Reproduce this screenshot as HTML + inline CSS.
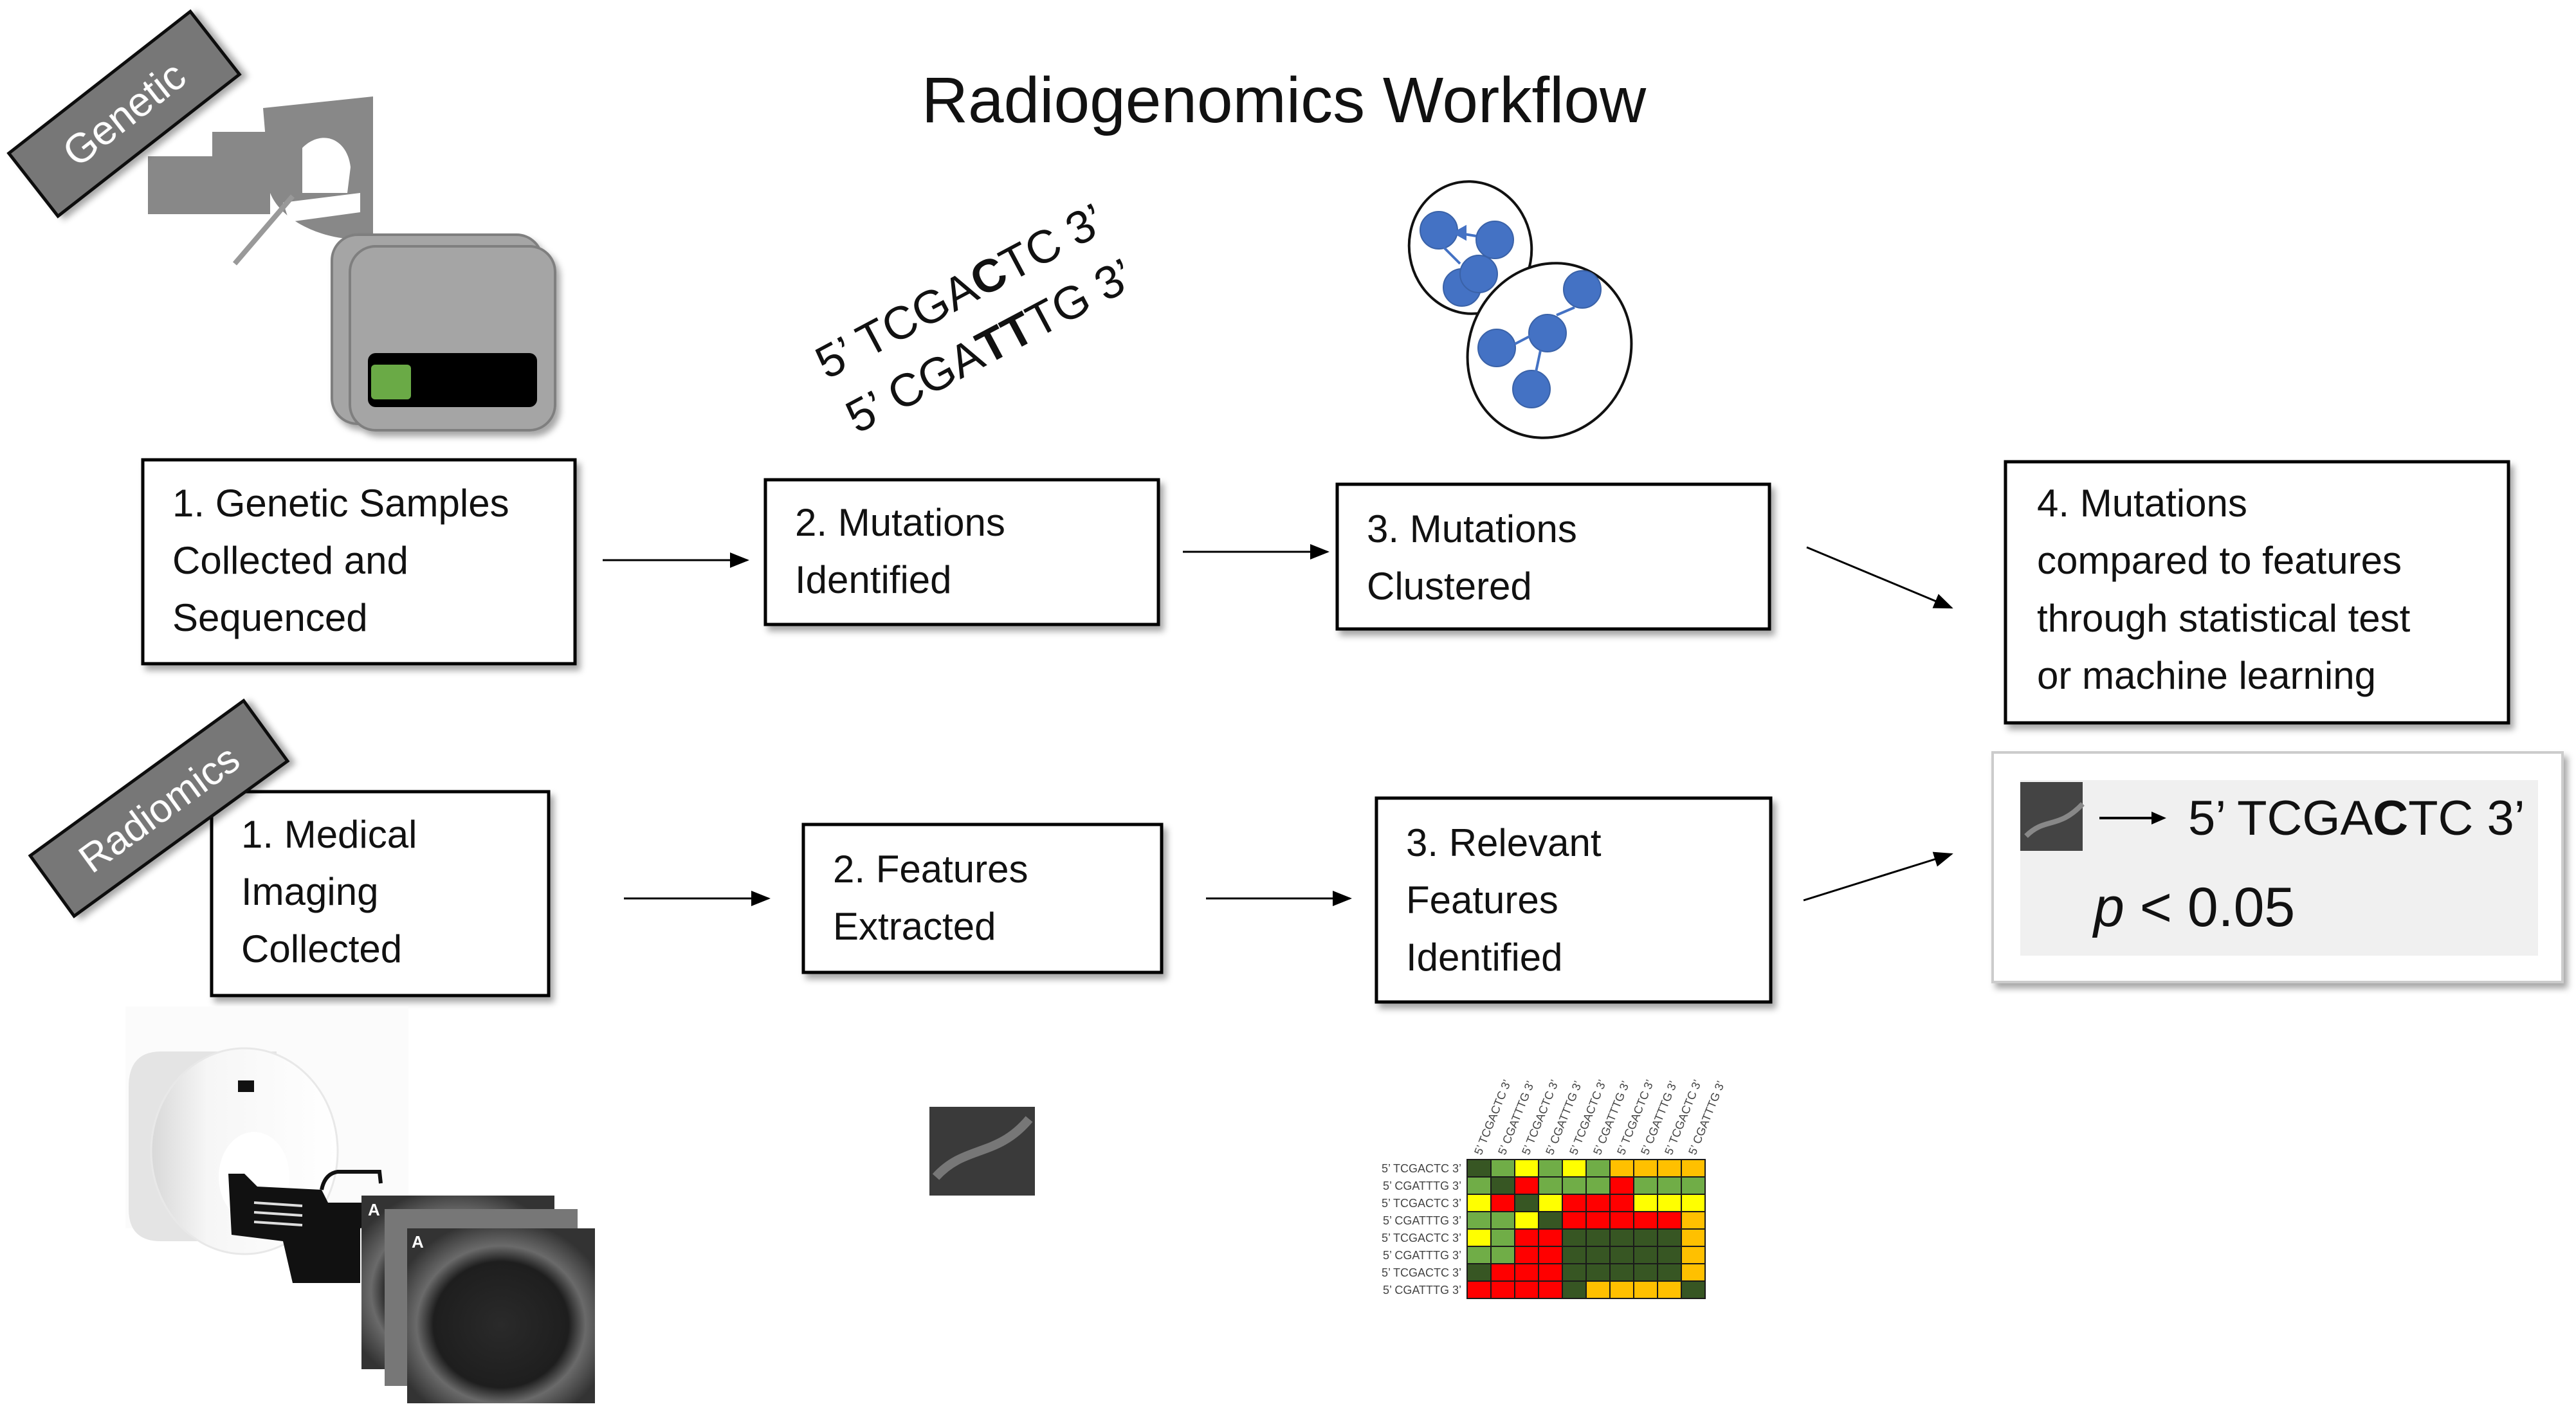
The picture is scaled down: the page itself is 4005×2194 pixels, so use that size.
<!DOCTYPE html>
<html><head><meta charset="utf-8"><style>
html,body{margin:0;padding:0;background:#fff;}
svg{display:block;}
text{font-family:"Liberation Sans",sans-serif;}
.c{stroke:#1a1a1a;stroke-width:2}
.D{fill:#375623}.G{fill:#70ad47}.Y{fill:#ffff00}.O{fill:#ffc000}.R{fill:#ff0000}
.bt{font-size:60px;fill:#111}
.hl{font-size:18px;fill:#444}
</style></head><body>
<svg width="4005" height="2194" viewBox="0 0 4005 2194" xmlns="http://www.w3.org/2000/svg">
<defs>
<filter id="sh" x="-10%" y="-10%" width="130%" height="130%"><feDropShadow dx="6" dy="8" stdDeviation="5" flood-color="#000" flood-opacity="0.35"/></filter>
<marker id="ah" markerWidth="10" markerHeight="8" refX="9" refY="4" orient="auto" markerUnits="strokeWidth"><path d="M0,0 L10,4 L0,8 z" fill="#000"/></marker>
<radialGradient id="mri" cx="50%" cy="55%" r="60%"><stop offset="0" stop-color="#2a2a2a"/><stop offset="0.6" stop-color="#1e1e1e"/><stop offset="0.75" stop-color="#6a6a6a"/><stop offset="1" stop-color="#333"/></radialGradient>
<linearGradient id="gan" x1="0" y1="0" x2="1" y2="0"><stop offset="0" stop-color="#d8d8d8"/><stop offset="0.3" stop-color="#f6f6f6"/><stop offset="1" stop-color="#fff"/></linearGradient>
</defs>

<!-- Title -->
<text x="1996" y="190" font-size="100" text-anchor="middle" fill="#111">Radiogenomics Workflow</text>

<!-- Microscope-like gray shape -->
<g fill="#888">
<rect x="230" y="243" width="190" height="90"/>
<path d="M409,168 L580,150 L580,370 C520,380 440,350 420,300 Z"/>
</g>
<rect x="330" y="205" width="110" height="38" fill="#888"/>
<path d="M470,230 C500,200 540,215 545,260 L540,300 L470,300 Z" fill="#fff"/>
<path d="M440,315 L560,300 L560,330 L450,345 Z" fill="#fff"/>
<line x1="365" y1="410" x2="455" y2="305" stroke="#999" stroke-width="8"/>

<!-- Genetic label -->
<g transform="translate(193,177) rotate(-38)" filter="url(#sh)">
<rect x="-179" y="-62" width="358" height="124" fill="#777" stroke="#111" stroke-width="5"/>
<text x="0" y="22" font-size="64" fill="#fff" text-anchor="middle">Genetic</text>
</g>

<!-- Sequencer -->
<g filter="url(#sh)">
<rect x="516" y="365" width="327" height="294" rx="40" fill="#a5a5a5" stroke="#7f7f7f" stroke-width="4"/>
<rect x="544" y="383" width="319" height="286" rx="40" fill="#a5a5a5" stroke="#7f7f7f" stroke-width="4"/>
</g>
<rect x="572" y="549" width="263" height="84" rx="12" fill="#000"/>
<rect x="577" y="567" width="62" height="54" rx="6" fill="#6aaa46"/>

<!-- DNA rotated text -->
<g transform="translate(1494,455) rotate(-28)"><text x="0" y="22" font-size="72" text-anchor="middle" fill="#111">5’ TCGA<tspan font-weight="bold">C</tspan>TC 3’</text></g>
<g transform="translate(1540,540) rotate(-28)"><text x="0" y="22" font-size="72" text-anchor="middle" fill="#111">5’ CGA<tspan font-weight="bold">TT</tspan>TG 3’</text></g>

<!-- Clusters -->
<ellipse cx="2286" cy="385" rx="95" ry="103" transform="rotate(-10 2286 385)" fill="#fff" stroke="#111" stroke-width="4"/>
<ellipse cx="2409" cy="545" rx="125" ry="138" transform="rotate(25 2409 545)" fill="#fff" stroke="#111" stroke-width="4"/>
<g fill="#4472c4" stroke="#3a62a8" stroke-width="2">
<circle cx="2237" cy="358" r="29"/><circle cx="2324" cy="373" r="29"/>
<circle cx="2273" cy="447" r="29"/><circle cx="2299" cy="426" r="29"/>
<circle cx="2460" cy="450" r="29"/><circle cx="2406" cy="518" r="29"/>
<circle cx="2327" cy="541" r="29"/><circle cx="2381" cy="605" r="29"/>
</g>
<g stroke="#4472c4" stroke-width="4" fill="#4472c4">
<line x1="2295" y1="367" x2="2265" y2="362"/><path d="M2262,362 l16,-9 l0,18z"/>
<line x1="2245" y1="385" x2="2270" y2="410"/>
<line x1="2420" y1="490" x2="2448" y2="478"/>
<line x1="2395" y1="545" x2="2388" y2="578"/>
<line x1="2380" y1="522" x2="2355" y2="535"/>
</g>

<!-- Boxes top row -->
<g fill="#fff" stroke="#000" stroke-width="5" filter="url(#sh)">
<rect x="222" y="715" width="672" height="317"/>
<rect x="1190" y="746" width="611" height="225"/>
<rect x="2079" y="753" width="672" height="225"/>
<rect x="3118" y="718" width="782" height="406"/>
<rect x="329" y="1231" width="524" height="317"/>
<rect x="1249" y="1282" width="557" height="230"/>
<rect x="2140" y="1241" width="613" height="317"/>
</g>
<text class="bt"><tspan x="268" y="803">1. Genetic Samples</tspan><tspan x="268" y="892">Collected and</tspan><tspan x="268" y="981">Sequenced</tspan></text>
<text class="bt"><tspan x="1236" y="833">2. Mutations</tspan><tspan x="1236" y="922">Identified</tspan></text>
<text class="bt"><tspan x="2125" y="843">3. Mutations</tspan><tspan x="2125" y="932">Clustered</tspan></text>
<text class="bt"><tspan x="3167" y="803">4. Mutations</tspan><tspan x="3167" y="892">compared to features</tspan><tspan x="3167" y="982">through statistical test</tspan><tspan x="3167" y="1071">or machine learning</tspan></text>
<text class="bt"><tspan x="375" y="1318">1. Medical</tspan><tspan x="375" y="1407">Imaging</tspan><tspan x="375" y="1496">Collected</tspan></text>
<text class="bt"><tspan x="1295" y="1372">2. Features</tspan><tspan x="1295" y="1461">Extracted</tspan></text>
<text class="bt"><tspan x="2186" y="1331">3. Relevant</tspan><tspan x="2186" y="1420">Features</tspan><tspan x="2186" y="1509">Identified</tspan></text>

<!-- Radiomics label -->
<g transform="translate(247,1257) rotate(-36)" filter="url(#sh)">
<rect x="-205" y="-58" width="410" height="116" fill="#777" stroke="#111" stroke-width="5"/>
<text x="0" y="22" font-size="62" fill="#fff" text-anchor="middle">Radiomics</text>
</g>

<!-- Arrows -->
<g stroke="#000" stroke-width="3" marker-end="url(#ah)">
<line x1="937" y1="871" x2="1162" y2="871"/>
<line x1="1839" y1="858" x2="2064" y2="858"/>
<line x1="2809" y1="851" x2="3034" y2="945"/>
<line x1="970" y1="1397" x2="1195" y2="1397"/>
<line x1="1875" y1="1397" x2="2099" y2="1397"/>
<line x1="2804" y1="1400" x2="3034" y2="1328"/>
</g>

<!-- Result box -->
<rect x="3098" y="1170" width="886" height="357" fill="#fff" stroke="#ccc" stroke-width="4" filter="url(#sh)"/>
<rect x="3141" y="1213" width="805" height="273" fill="#f0f0f0"/>
<rect x="3141" y="1216" width="97" height="107" fill="#444"/>
<path d="M3150,1300 C3180,1270 3200,1290 3238,1250" stroke="#888" stroke-width="8" fill="none"/>
<line x1="3264" y1="1272" x2="3350" y2="1272" stroke="#000" stroke-width="4"/>
<path d="M3345,1262 L3368,1272 L3345,1282 z" fill="#000"/>
<text x="3402" y="1298" font-size="76" fill="#111">5’ TCGA<tspan font-weight="bold">C</tspan>TC 3’</text>
<text x="3255" y="1440" font-size="86" fill="#111"><tspan font-style="italic">p</tspan> &lt; 0.05</text>

<!-- Scanner -->
<rect x="195" y="1565" width="440" height="345" fill="#fbfbfb"/>
<path d="M250,1635 L430,1635 L430,1930 L250,1930 Q200,1930 200,1880 L200,1690 Q200,1635 250,1635Z" fill="#e4e4e4"/>
<ellipse cx="380" cy="1790" rx="145" ry="160" fill="url(#gan)" stroke="#e8e8e8" stroke-width="3"/>
<ellipse cx="395" cy="1830" rx="55" ry="70" fill="#fff"/>
<rect x="370" y="1680" width="25" height="18" fill="#111"/>
<path d="M355,1825 L380,1825 L400,1845 L500,1850 L510,1870 L590,1870 L595,1900 L560,1910 L560,1995 L455,1995 L440,1930 L360,1920 Z" fill="#111"/>
<g stroke="#ddd" stroke-width="4"><line x1="395" y1="1870" x2="470" y2="1875"/><line x1="395" y1="1885" x2="470" y2="1890"/><line x1="395" y1="1900" x2="470" y2="1905"/></g>
<path d="M500,1850 Q505,1825 525,1822 L590,1822 L592,1840" stroke="#111" stroke-width="6" fill="none"/>
<!-- MRI stack -->
<rect x="562" y="1859" width="300" height="270" fill="url(#mri)"/>
<rect x="598" y="1880" width="300" height="275" fill="#777"/>
<rect x="633" y="1910" width="292" height="272" fill="url(#mri)"/>
<text x="572" y="1890" font-size="26" fill="#fff" font-weight="bold">A</text>
<text x="640" y="1940" font-size="26" fill="#fff" font-weight="bold">A</text>
<!-- small MRI patch -->
<rect x="1445" y="1721" width="164" height="138" fill="#3a3a3a"/>
<path d="M1455,1830 C1500,1780 1550,1800 1600,1740" stroke="#777" stroke-width="14" fill="none"/>

<!-- Heatmap -->
<g class="c">
<rect class="D" x="2281" y="1803" width="37" height="27"/><rect class="G" x="2318" y="1803" width="37" height="27"/><rect class="Y" x="2355" y="1803" width="37" height="27"/><rect class="G" x="2392" y="1803" width="37" height="27"/><rect class="Y" x="2429" y="1803" width="37" height="27"/><rect class="G" x="2466" y="1803" width="37" height="27"/><rect class="O" x="2503" y="1803" width="37" height="27"/><rect class="O" x="2540" y="1803" width="37" height="27"/><rect class="O" x="2577" y="1803" width="37" height="27"/><rect class="O" x="2614" y="1803" width="37" height="27"/>
<rect class="G" x="2281" y="1830" width="37" height="27"/><rect class="D" x="2318" y="1830" width="37" height="27"/><rect class="R" x="2355" y="1830" width="37" height="27"/><rect class="G" x="2392" y="1830" width="37" height="27"/><rect class="G" x="2429" y="1830" width="37" height="27"/><rect class="G" x="2466" y="1830" width="37" height="27"/><rect class="R" x="2503" y="1830" width="37" height="27"/><rect class="G" x="2540" y="1830" width="37" height="27"/><rect class="G" x="2577" y="1830" width="37" height="27"/><rect class="G" x="2614" y="1830" width="37" height="27"/>
<rect class="Y" x="2281" y="1857" width="37" height="27"/><rect class="R" x="2318" y="1857" width="37" height="27"/><rect class="D" x="2355" y="1857" width="37" height="27"/><rect class="Y" x="2392" y="1857" width="37" height="27"/><rect class="R" x="2429" y="1857" width="37" height="27"/><rect class="R" x="2466" y="1857" width="37" height="27"/><rect class="R" x="2503" y="1857" width="37" height="27"/><rect class="Y" x="2540" y="1857" width="37" height="27"/><rect class="Y" x="2577" y="1857" width="37" height="27"/><rect class="Y" x="2614" y="1857" width="37" height="27"/>
<rect class="G" x="2281" y="1884" width="37" height="27"/><rect class="G" x="2318" y="1884" width="37" height="27"/><rect class="Y" x="2355" y="1884" width="37" height="27"/><rect class="D" x="2392" y="1884" width="37" height="27"/><rect class="R" x="2429" y="1884" width="37" height="27"/><rect class="R" x="2466" y="1884" width="37" height="27"/><rect class="R" x="2503" y="1884" width="37" height="27"/><rect class="R" x="2540" y="1884" width="37" height="27"/><rect class="R" x="2577" y="1884" width="37" height="27"/><rect class="O" x="2614" y="1884" width="37" height="27"/>
<rect class="Y" x="2281" y="1911" width="37" height="27"/><rect class="G" x="2318" y="1911" width="37" height="27"/><rect class="R" x="2355" y="1911" width="37" height="27"/><rect class="R" x="2392" y="1911" width="37" height="27"/><rect class="D" x="2429" y="1911" width="37" height="27"/><rect class="D" x="2466" y="1911" width="37" height="27"/><rect class="D" x="2503" y="1911" width="37" height="27"/><rect class="D" x="2540" y="1911" width="37" height="27"/><rect class="D" x="2577" y="1911" width="37" height="27"/><rect class="O" x="2614" y="1911" width="37" height="27"/>
<rect class="G" x="2281" y="1938" width="37" height="27"/><rect class="G" x="2318" y="1938" width="37" height="27"/><rect class="R" x="2355" y="1938" width="37" height="27"/><rect class="R" x="2392" y="1938" width="37" height="27"/><rect class="D" x="2429" y="1938" width="37" height="27"/><rect class="D" x="2466" y="1938" width="37" height="27"/><rect class="D" x="2503" y="1938" width="37" height="27"/><rect class="D" x="2540" y="1938" width="37" height="27"/><rect class="D" x="2577" y="1938" width="37" height="27"/><rect class="O" x="2614" y="1938" width="37" height="27"/>
<rect class="D" x="2281" y="1965" width="37" height="27"/><rect class="R" x="2318" y="1965" width="37" height="27"/><rect class="R" x="2355" y="1965" width="37" height="27"/><rect class="R" x="2392" y="1965" width="37" height="27"/><rect class="D" x="2429" y="1965" width="37" height="27"/><rect class="D" x="2466" y="1965" width="37" height="27"/><rect class="D" x="2503" y="1965" width="37" height="27"/><rect class="D" x="2540" y="1965" width="37" height="27"/><rect class="D" x="2577" y="1965" width="37" height="27"/><rect class="O" x="2614" y="1965" width="37" height="27"/>
<rect class="R" x="2281" y="1992" width="37" height="27"/><rect class="R" x="2318" y="1992" width="37" height="27"/><rect class="R" x="2355" y="1992" width="37" height="27"/><rect class="R" x="2392" y="1992" width="37" height="27"/><rect class="D" x="2429" y="1992" width="37" height="27"/><rect class="O" x="2466" y="1992" width="37" height="27"/><rect class="O" x="2503" y="1992" width="37" height="27"/><rect class="O" x="2540" y="1992" width="37" height="27"/><rect class="O" x="2577" y="1992" width="37" height="27"/><rect class="D" x="2614" y="1992" width="37" height="27"/>
</g>
<g class="hl" text-anchor="end">
<text x="2272" y="1823">5’ TCGACTC 3’</text><text x="2272" y="1850">5’ CGATTTG 3’</text>
<text x="2272" y="1877">5’ TCGACTC 3’</text><text x="2272" y="1904">5’ CGATTTG 3’</text>
<text x="2272" y="1931">5’ TCGACTC 3’</text><text x="2272" y="1958">5’ CGATTTG 3’</text>
<text x="2272" y="1985">5’ TCGACTC 3’</text><text x="2272" y="2012">5’ CGATTTG 3’</text>
</g>
<g class="hl">
<text transform="translate(2303,1797) rotate(-68)">5’ TCGACTC 3’</text>
<text transform="translate(2340,1797) rotate(-68)">5’ CGATTTG 3’</text>
<text transform="translate(2377,1797) rotate(-68)">5’ TCGACTC 3’</text>
<text transform="translate(2414,1797) rotate(-68)">5’ CGATTTG 3’</text>
<text transform="translate(2451,1797) rotate(-68)">5’ TCGACTC 3’</text>
<text transform="translate(2488,1797) rotate(-68)">5’ CGATTTG 3’</text>
<text transform="translate(2525,1797) rotate(-68)">5’ TCGACTC 3’</text>
<text transform="translate(2562,1797) rotate(-68)">5’ CGATTTG 3’</text>
<text transform="translate(2599,1797) rotate(-68)">5’ TCGACTC 3’</text>
<text transform="translate(2636,1797) rotate(-68)">5’ CGATTTG 3’</text>
</g>
</svg>
</body></html>
